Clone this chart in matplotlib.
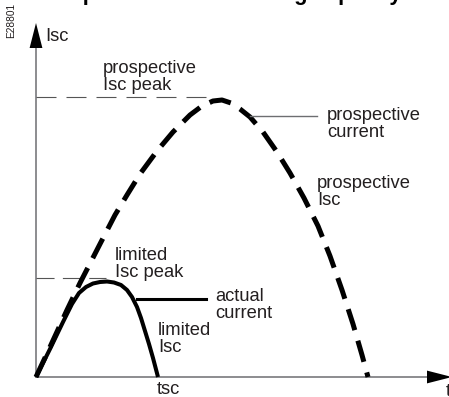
import matplotlib
matplotlib.use("Agg")
import matplotlib.pyplot as plt

plt.rcParams['font.family'] = ['Liberation Sans', 'DejaVu Sans']
plt.rcParams['lines.scale_dashes'] = False

# prospective short-circuit current (time, current)
prosp_t = [0, 14, 31, 44, 64, 79, 91, 104, 121, 137, 154, 166, 177, 186, 195,
           204, 214, 227, 241, 254, 268, 282, 294, 306, 317, 326, 332]
prosp_i = [0, 30, 67, 94, 133, 162, 182, 203, 226, 245, 262, 271, 276, 277, 274,
           268, 260, 245, 225, 204, 179, 151, 121, 87, 53, 22, 0]

# limited (actual) current
lim_t = [0, 14, 27, 36, 43, 50, 57, 64, 71, 78, 85, 91, 96, 101, 105, 109, 113, 117, 122]
lim_i = [0, 28, 55, 73, 84, 90, 93.5, 95, 95.5, 94.5, 92, 87, 80, 70, 59, 46, 33, 19, 0]

prosp_peak = 280
lim_peak = 99
tsc = 121

txt_col = '#231f20'
axis_col = '#6d6e71'
fs = 13.2

fig = plt.figure(figsize=(4.49, 3.97), dpi=100)
ax = fig.add_axes([0, 0, 1, 1])
ax.set_xlim(-36, 413)
ax.set_ylim(-20, 377)
ax.axis('off')

# axes with arrow heads
ax.plot([0, 0], [0, 329], color=axis_col, lw=1.1)
ax.plot([0, 391], [0, 0], color=axis_col, lw=1.1)
arrow = dict(arrowstyle='-|>,head_length=18,head_width=4.6', color='black',
             lw=0, shrinkA=0, shrinkB=0, mutation_scale=1)
ax.annotate('', xy=(0, 354), xytext=(0, 329), arrowprops=arrow, annotation_clip=False)
ax.annotate('', xy=(416, 0), xytext=(391, 0), arrowprops=arrow, annotation_clip=False)

# peak reference lines
ax.plot([0, 172], [prosp_peak, prosp_peak], color='#555555', lw=0.8, dashes=(14.4, 7.2))
ax.plot([0, 70], [lim_peak, lim_peak], color='#555555', lw=0.8, dashes=(13, 6))

# curves
ax.plot(prosp_t, prosp_i, color='black', lw=3.6, dashes=(15.8, 7.9),
        dash_capstyle='butt', dash_joinstyle='round')
ax.plot(lim_t, lim_i, color='black', lw=2.9, solid_capstyle='butt',
        solid_joinstyle='round')

# leader lines
ax.plot([214, 281], [261, 261], color=axis_col, lw=1.0)
ax.plot([101, 170], [78, 78], color='black', lw=2.2)

# labels (y = baseline of the last line)
def label(x, y, s, **kw):
    ax.text(x, y, s, fontsize=fs, color=txt_col, va='baseline', ha='left',
            linespacing=1.0, **kw)

label(67, 287, 'prospective\nIsc peak')
label(291, 240, 'prospective\ncurrent')
label(281, 172, 'prospective\nIsc')
label(79, 100, 'limited\nIsc peak')
label(179, 59, 'actual\ncurrent')
label(tsc + 1, 25, 'limited\nIsc')
label(tsc, -17, 'tsc')
label(410, -19, 't')
label(9, 336, 'Isc')

fig.text(11 / 449, 1 - 20 / 397, 'E28801', rotation=90, fontsize=7.3,
         color=txt_col, ha='center', va='center')
fig.text(24 / 449, 1.0, 'Example of current limiting capacity', fontsize=15.8,
         fontweight='bold', color='black', ha='left', va='baseline')

fig.savefig('out.png', dpi=100)
